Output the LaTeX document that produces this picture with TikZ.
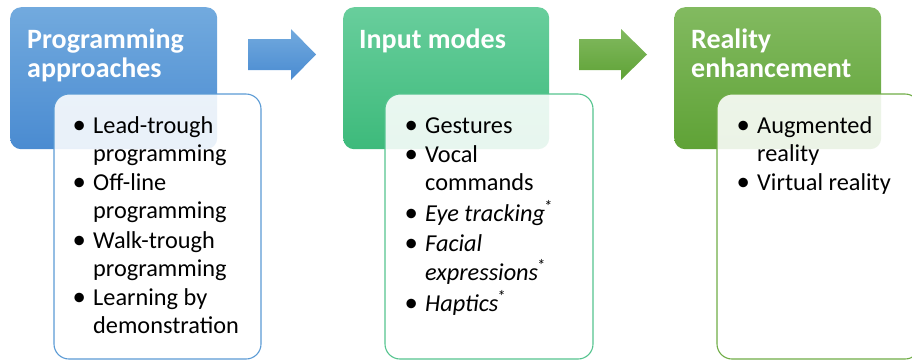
\documentclass[tikz,border=0pt]{standalone}
\usepackage{fontspec}
\setmainfont{Carlito}
\definecolor{blueT}{HTML}{72AADE}
\definecolor{blueB}{HTML}{4A8BD1}
\definecolor{blueL}{HTML}{5B9BD5}
\definecolor{grnT}{HTML}{68CE9C}
\definecolor{grnB}{HTML}{3DBA7B}
\definecolor{grnL}{HTML}{55C48F}
\definecolor{lgT}{HTML}{82BA60}
\definecolor{lgB}{HTML}{5FA236}
\definecolor{lgL}{HTML}{70AD47}
\newcommand{\bul}{\makebox[18pt][l]{\hspace*{-2.5pt}\raisebox{-0.3pt}{\scalebox{1.1}{\textbullet}}}}
\newcommand{\ind}{\hspace*{18pt}}
\newcommand{\astr}{\kern-1.5pt\textsuperscript{*}}
\begin{document}
\begin{tikzpicture}[x=1pt,y=-1pt,
  headbox/.style={rounded corners=11pt, inner sep=0pt, anchor=north west},
  headtext/.style={text=white, inner sep=0pt, anchor=base west,
    font=\fontsize{28}{29}\selectfont\bfseries},
  listbox/.style={rounded corners=15pt, line width=1.1pt, fill=white, fill opacity=0.88},
  listtext/.style={text=black, inner sep=0pt, anchor=base west,
    font=\fontsize{24.3}{28}\selectfont}]
\useasboundingbox (0,0) rectangle (912,360);
\clip (0,0) rectangle (912,360);

% header boxes
\node[headbox, minimum width=207pt, minimum height=142pt, top color=blueT, bottom color=blueB] (h1) at (10,7) {};
\node[headbox, minimum width=206pt, minimum height=142pt, top color=grnT, bottom color=grnB] (h2) at (343,7) {};
\node[headbox, minimum width=207pt, minimum height=142pt, top color=lgT, bottom color=lgB] (h3) at (674,7) {};

\node[headtext] (t1) at (27,48) {\begin{tabular}[t]{@{}l@{}}Programming\\approaches\end{tabular}};
\node[headtext] (t2) at (359,48) {Input modes};
\node[headtext] (t3) at (691,48) {\begin{tabular}[t]{@{}l@{}}Reality\\enhancement\end{tabular}};

% block arrows
\shade[top color=blueT, bottom color=blueB]
  (248,39) -- (291,39) -- (291,29) -- (316,54.5) -- (291,80) -- (291,70) -- (248,70) -- cycle;
\shade[top color=lgT, bottom color=lgB]
  (579,39) -- (621,39) -- (621,29) -- (647,54.5) -- (621,80) -- (621,70) -- (579,70) -- cycle;

% list boxes
\draw[listbox, draw=blueL] (54,94) rectangle (261,359);
\draw[listbox, draw=grnL] (385,94) rectangle (593,359);
\draw[listbox, draw=lgL] (717,94) rectangle (920,359);

\node[listtext] (l1) at (75,133) {\begin{tabular}[t]{@{}l@{}}
\bul Lead-trough\\ \ind programming\\[1.5pt]
\bul Off-line\\ \ind programming\\[1.5pt]
\bul Walk-trough\\ \ind programming\\[1.5pt]
\bul Learning by\\ \ind demonstration
\end{tabular}};

\node[listtext] (l2) at (407,133) {\begin{tabular}[t]{@{}l@{}}
\bul Gestures\\[1.5pt]
\bul Vocal\\ \ind commands\\[1.5pt]
\bul \textit{Eye tracking\astr}\\[1.5pt]
\bul \textit{Facial}\\ \ind \textit{expressions\astr}\\[1.5pt]
\bul \textit{Haptics\astr}
\end{tabular}};

\node[listtext] (l3) at (739,133) {\begin{tabular}[t]{@{}l@{}}
\bul Augmented\\ \ind reality\\[1.5pt]
\bul Virtual reality
\end{tabular}};
\end{tikzpicture}
\end{document}
